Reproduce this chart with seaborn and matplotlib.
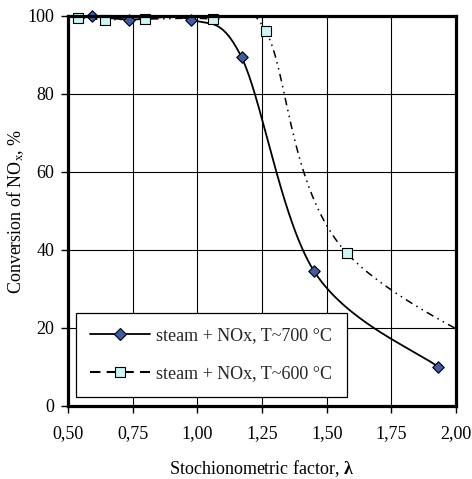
import numpy as np
import matplotlib
matplotlib.use("Agg")
import matplotlib.pyplot as plt
import seaborn as sns
from matplotlib.lines import Line2D

# ---- data ----
lam_700 = [0.592, 0.736, 0.974, 1.171, 1.451, 1.929]
conv_700 = [100.0, 99.1, 99.1, 89.4, 34.6, 10.1]
lam_600 = [0.537, 0.643, 0.799, 1.059, 1.264, 1.578]
conv_600 = [99.6, 99.1, 99.2, 99.2, 96.2, 39.2]
# continuation of the smoothed 600 °C trend beyond the right axis edge
lam_600_tail = [2.6]
conv_600_tail = [0.0]

label_700 = "steam + NOx, T~700 °C"
label_600 = "steam + NOx, T~600 °C"
x_ticks = [0.50, 0.75, 1.00, 1.25, 1.50, 1.75, 2.00]
x_tick_labels = ["0,50", "0,75", "1,00", "1,25", "1,50", "1,75", "2,00"]
y_ticks = [0, 20, 40, 60, 80, 100]

sns.set_theme(style="white")
plt.rcParams["font.family"] = ["Liberation Serif", "DejaVu Serif"]
plt.rcParams["mathtext.fontset"] = "custom"
plt.rcParams["mathtext.rm"] = "Liberation Serif"
plt.rcParams["mathtext.it"] = "Liberation Serif:italic"
plt.rcParams["mathtext.bf"] = "Liberation Serif:bold"

W, H = 472, 479
fig = plt.figure(figsize=(W / 100, H / 100), dpi=100)
ax = fig.add_axes([68 / W, 73 / H, 388 / W, 390 / H])
ax.set_xlim(0.5, 2.0)
ax.set_ylim(0, 100)


def smooth(xs, ys, n=60):
    pts = ax.transData.transform(np.column_stack([xs, ys]))
    P = np.vstack([pts[0], pts, pts[-1]])
    out = []
    t = np.linspace(0, 1, n)[:, None]
    for i in range(1, len(P) - 2):
        p0, p1, p2, p3 = P[i - 1], P[i], P[i + 1], P[i + 2]
        c1 = p1 + (p2 - p0) / 6
        c2 = p2 - (p3 - p1) / 6
        seg = (1 - t) ** 3 * p1 + 3 * (1 - t) ** 2 * t * c1 + 3 * (1 - t) * t ** 2 * c2 + t ** 3 * p2
        out.append(seg if i == 1 else seg[1:])
    return ax.transData.inverted().transform(np.vstack(out))


ax.grid(True, color="black", lw=0.8)
ax.set_axisbelow(True)

c700 = smooth(lam_700, conv_700)
c600 = smooth(lam_600 + lam_600_tail, conv_600 + conv_600_tail)

sns.lineplot(x=c700[:, 0], y=c700[:, 1], sort=False, estimator=None,
             color="black", lw=1.3, ax=ax, zorder=3)
sns.lineplot(x=c600[:, 0], y=c600[:, 1], sort=False, estimator=None,
             color="black", lw=1.1, ax=ax, zorder=3)
ax.lines[-1].set_linestyle((0, (5, 3, 1, 3, 1, 3)))

sns.scatterplot(x=lam_700, y=conv_700, marker="D", s=34, color="#3A5DA8",
                edgecolor="black", linewidth=0.8, ax=ax, zorder=5, clip_on=False)
sns.scatterplot(x=lam_600, y=conv_600, marker="s", s=52, color="#CCF5F5",
                edgecolor="black", linewidth=0.8, ax=ax, zorder=5, clip_on=False)

ax.set_xticks(x_ticks)
ax.set_xticklabels(x_tick_labels)
ax.set_yticks(y_ticks)
ax.tick_params(axis="both", which="major", direction="out", length=5, width=1,
               colors="black", labelsize=13, bottom=True, left=True)
ax.tick_params(axis="x", pad=9)
ax.tick_params(axis="y", pad=5)

for sp in ax.spines.values():
    sp.set_color("black")
    sp.set_linewidth(2.3)
    sp.set_zorder(6)

ax.set_xlabel(r"Stochionometric factor, $\mathbf{λ}$", fontsize=13, color="black")
ax.set_ylabel(r"Conversion of NO$_{\mathrm{x}}$, %", fontsize=13, color="black")
ax.xaxis.set_label_coords(0.5, -0.135)
ax.yaxis.set_label_coords(-0.107, 0.5)

handles = [
    Line2D([], [], color="black", lw=1.3, marker="D", markersize=6,
           markerfacecolor="#3A5DA8", markeredgecolor="black", markeredgewidth=0.8),
    Line2D([], [], color="black", lw=1.5, linestyle=(0, (5, 3)), marker="s", markersize=7,
           markerfacecolor="#CCF5F5", markeredgecolor="black", markeredgewidth=0.8),
]
leg = ax.legend(handles, [label_700, label_600], loc="lower left",
                bbox_to_anchor=(0.02, 0.024), borderaxespad=0, frameon=True,
                fancybox=False, edgecolor="black", framealpha=1, fontsize=13,
                handlelength=3.3, handletextpad=0.35, labelspacing=1.15, borderpad=0.8)
leg.get_frame().set_linewidth(0.9)
leg.set_zorder(7)

fig.savefig("out.png", dpi=100)
